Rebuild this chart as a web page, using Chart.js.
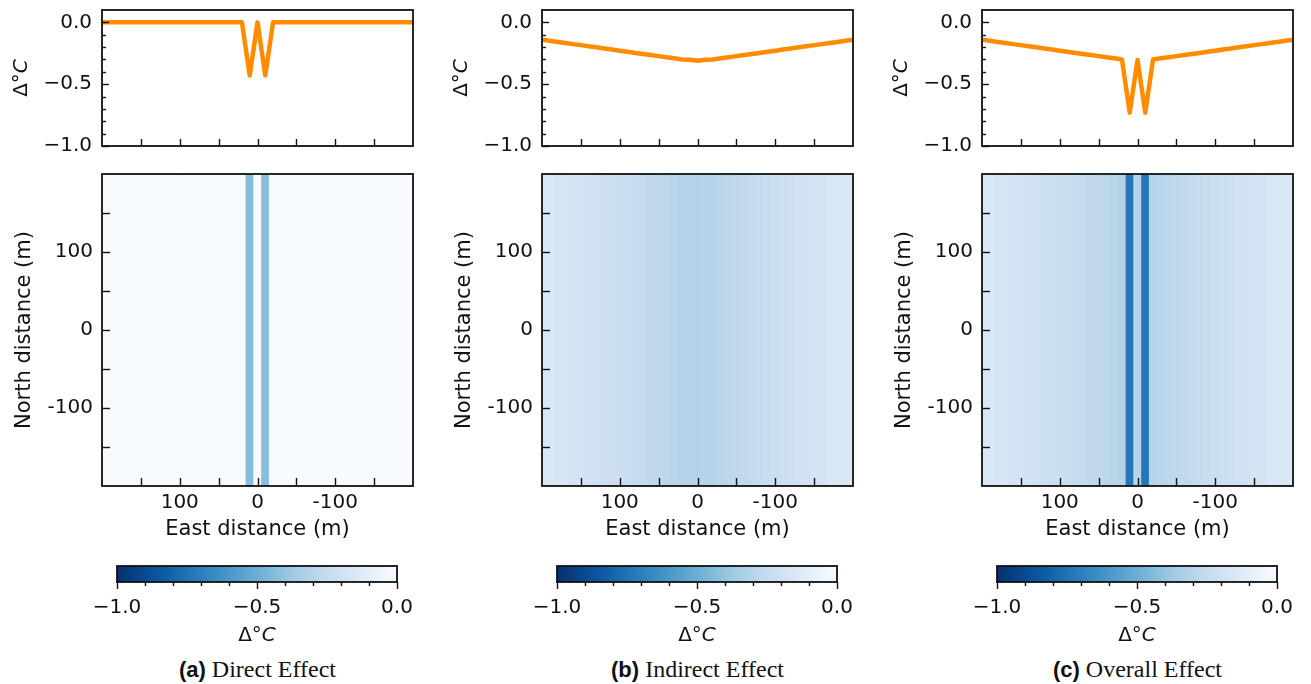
<!DOCTYPE html>
<html>
<head>
<meta charset="utf-8">
<script src="https://cdn.jsdelivr.net/npm/chart.js@4.4.1/dist/chart.umd.min.js"></script>
<style>
  body { margin: 0; background: #fff; }
  #fig { position: relative; width: 1311px; height: 684px; overflow: hidden; }
  .panel { position: absolute; top: 0; width: 440px; height: 684px; }
  .panel canvas { position: absolute; left: 0; }
  .caption {
    position: absolute; left: 0; width: 515px; top: 654px;
    text-align: center; color: #111; white-space: nowrap;
    font-family: "Liberation Serif", "DejaVu Serif", serif; font-size: 24px; line-height: 30px;
  }
  .caption b { font-family: "Liberation Sans", Arial, sans-serif; font-size: 22px; }
</style>
</head>
<body>
<div id="fig"></div>
<script>
"use strict";

// east distance (m) of each sample / heatmap column, left to right
const EAST_M = [
  200, 190, 180, 170, 160, 150, 140, 130, 120, 110, 100, 90, 80, 70, 60, 50, 40, 30, 20, 10,
  0, -10, -20, -30, -40, -50, -60, -70, -80, -90, -100, -110, -120, -130, -140, -150, -160,
  -170, -180, -190, -200
];

// temperature change (deg C) along east distance
const DIRECT_C = [
  0, 0, 0, 0, 0, 0, 0, 0, 0, 0, 0, 0, 0, 0, 0, 0, 0, 0, 0, -0.43,
  0, -0.43, 0, 0, 0, 0, 0, 0, 0, 0, 0, 0, 0, 0, 0, 0, 0, 0, 0, 0, 0
];
const INDIRECT_C = [
  -0.140, -0.149, -0.158, -0.167, -0.176, -0.184, -0.193, -0.202, -0.211, -0.220, -0.229,
  -0.238, -0.247, -0.256, -0.264, -0.273, -0.282, -0.291, -0.300, -0.302,
  -0.310, -0.302, -0.300, -0.291, -0.282, -0.273, -0.264, -0.256, -0.247, -0.238, -0.229,
  -0.220, -0.211, -0.202, -0.193, -0.184, -0.176, -0.167, -0.158, -0.149, -0.140
];
const OVERALL_C = [
  -0.140, -0.149, -0.158, -0.167, -0.176, -0.184, -0.193, -0.202, -0.211, -0.220, -0.229,
  -0.238, -0.247, -0.256, -0.264, -0.273, -0.282, -0.291, -0.300, -0.730,
  -0.305, -0.730, -0.300, -0.291, -0.282, -0.273, -0.264, -0.256, -0.247, -0.238, -0.229,
  -0.220, -0.211, -0.202, -0.193, -0.184, -0.176, -0.167, -0.158, -0.149, -0.140
];

const PANEL_TAGS = ["(a)", "(b)", "(c)"];
const PANEL_NAMES = ["Direct Effect", "Indirect Effect", "Overall Effect"];
const PANEL_VALUES = [DIRECT_C, INDIRECT_C, OVERALL_C];

// axis ranges and ticks
const DIST_RANGE = [-200, 200];
const DIST_LABELS = [100, 0, -100];
const DIST_TICKS = [150, 100, 50, 0, -50, -100, -150];
const TEMP_RANGE = [-1.0, 0.1];
const TEMP_LABELS = [0, -0.5, -1.0];
const TEMP_MINOR = [-0.1, -0.2, -0.3, -0.4, -0.6, -0.7, -0.8, -0.9];
const CB_RANGE = [-1.0, 0.0];
const CB_LABELS = [-1.0, -0.5, 0.0];
const CB_MINOR = [-0.9, -0.8, -0.7, -0.6, -0.4, -0.3, -0.2, -0.1];

const INK = "#111111";
const ORANGE = "#ff8c00";
const BLUES = ["#f7fbff", "#deebf7", "#c6dbef", "#9ecae1", "#6baed6",
  "#4292c6", "#2171b5", "#08519c", "#08306b"];
const SANS = "'DejaVu Sans', sans-serif";
const TICK_FONT = { family: SANS, size: 20, lineHeight: 1 };
const TITLE_FONT = { family: SANS, size: 21, lineHeight: 1 };

const hexRGB = (h) => [1, 3, 5].map((i) => parseInt(h.slice(i, i + 2), 16));

// Blues colormap, value -1 is darkest, 0 is lightest
const bluesFor = (value) => {
  const t = Math.min(1, Math.max(0, -value)) * (BLUES.length - 1);
  const i = Math.min(Math.floor(t), BLUES.length - 2);
  const a = hexRGB(BLUES[i]);
  const b = hexRGB(BLUES[i + 1]);
  const k = t - i;
  return "rgb(" + a.map((v, j) => Math.round(v + (b[j] - v) * k)).join(",") + ")";
};

const signed = (v) => (v < -1e-9 ? "\u2212" : "") + Math.abs(v).toFixed(1);
const tickList = (values) => (s) => {
  s.ticks = values.map((v) => ({ value: v }));
};
// invisible tick length is used as the label gap (padding would also pad the chart area)
const gap = (len) => ({ display: false, drawTicks: true, tickLength: len });

// frame around the plot area and matplotlib style tick marks
const axesDeco = {
  id: "axesDeco",
  afterDraw(chart, args, opts) {
    const { ctx, chartArea: a } = chart;
    ctx.save();
    ctx.strokeStyle = INK;
    ctx.lineWidth = 1.4;
    (opts.marks || []).forEach((m) => {
      const s = chart.scales[m.axis];
      m.values.forEach((v) => {
        const p = Math.round(s.getPixelForValue(v)) + 0.5;
        ctx.beginPath();
        if (m.axis === "x") {
          ctx.moveTo(p, a.bottom);
          ctx.lineTo(p, a.bottom + m.len);
        } else {
          ctx.moveTo(a.left, p);
          ctx.lineTo(a.left + m.len, p);
        }
        ctx.stroke();
      });
    });
    if (opts.frame) {
      ctx.lineWidth = 1.8;
      ctx.strokeRect(a.left, a.top, a.width, a.height);
    }
    ctx.restore();
  },
};

// "Δ°C" with an italic C, like matplotlib mathtext
const mathLabel = {
  id: "mathLabel",
  afterDraw(chart, args, opts) {
    if (opts.x === undefined) return;
    const ctx = chart.ctx;
    const up = "20px " + SANS;
    const it = "oblique 20px " + SANS;
    ctx.save();
    ctx.translate(opts.x, opts.y);
    if (opts.rotate) ctx.rotate(-Math.PI / 2);
    ctx.fillStyle = INK;
    ctx.textBaseline = "middle";
    ctx.textAlign = "left";
    ctx.font = up;
    const w1 = ctx.measureText("Δ°").width;
    ctx.font = it;
    const w2 = ctx.measureText("C").width;
    const x0 = -(w1 + w2) / 2;
    ctx.font = up;
    ctx.fillText("Δ°", x0, 0);
    ctx.font = it;
    ctx.fillText("C", x0 + w1, 0);
    ctx.restore();
  },
};

const baseOptions = () => ({
  responsive: false,
  animation: false,
  devicePixelRatio: 1,
  events: [],
});

const hidden = { legend: { display: false }, tooltip: { enabled: false } };

function makeCanvas(parent, top, h) {
  const c = document.createElement("canvas");
  c.width = 440;
  c.height = h;
  c.style.top = top + "px";
  parent.appendChild(c);
  return c;
}

function drawProfile(parent, values) {
  new Chart(makeCanvas(parent, 0, 160), {
    type: "line",
    data: {
      datasets: [{
        data: EAST_M.map((x, i) => ({ x: x, y: values[i] })),
        borderColor: ORANGE,
        borderWidth: 4.5,
        borderJoinStyle: "round",
        borderCapStyle: "butt",
        pointRadius: 0,
        tension: 0,
      }],
    },
    options: {
      ...baseOptions(),
      layout: { padding: { left: 0, right: 27, top: 10, bottom: 0 } },
      plugins: {
        ...hidden,
        axesDeco: {
          frame: true,
          marks: [
            { axis: "x", values: DIST_TICKS, len: -7 },
            { axis: "y", values: TEMP_LABELS, len: 7 },
            { axis: "y", values: TEMP_MINOR, len: 4 },
          ],
        },
        mathLabel: { x: 22, y: 78, rotate: true },
      },
      scales: {
        x: {
          type: "linear", min: DIST_RANGE[0], max: DIST_RANGE[1], reverse: true,
          grid: { display: false }, border: { display: false },
          ticks: { display: false },
          afterFit: (s) => { s.height = 14; },
        },
        y: {
          type: "linear", min: TEMP_RANGE[0], max: TEMP_RANGE[1],
          grid: gap(10), border: { display: false },
          afterBuildTicks: tickList(TEMP_LABELS),
          ticks: { callback: (v) => signed(v), padding: 0, color: INK, font: TICK_FONT },
          afterFit: (s) => { s.width = 102; },
        },
      },
    },
    plugins: [axesDeco, mathLabel],
  });
}

function drawField(parent, values) {
  new Chart(makeCanvas(parent, 160, 380), {
    type: "bar",
    data: {
      datasets: [{
        data: EAST_M.map((x) => ({ x: x, y: [DIST_RANGE[0], DIST_RANGE[1]] })),
        backgroundColor: values.map(bluesFor),
        borderWidth: 0,
        barPercentage: 1.06,
        categoryPercentage: 1,
        clip: 0,
      }],
    },
    options: {
      ...baseOptions(),
      layout: { padding: { left: 0, right: 27, top: 14, bottom: 0 } },
      plugins: {
        ...hidden,
        axesDeco: {
          frame: true,
          marks: [
            { axis: "x", values: DIST_TICKS, len: -8 },
            { axis: "y", values: DIST_TICKS, len: 8 },
          ],
        },
      },
      scales: {
        x: {
          type: "linear", min: DIST_RANGE[0], max: DIST_RANGE[1], reverse: true, offset: false,
          grid: { ...gap(7), offset: false }, border: { display: false },
          afterBuildTicks: tickList(DIST_LABELS),
          ticks: { callback: (v) => String(v), padding: 0, color: INK, font: TICK_FONT, maxRotation: 0 },
          title: { display: true, text: "East distance (m)", color: INK, font: TITLE_FONT, padding: 0 },
          afterFit: (s) => { s.height = 54; },
        },
        y: {
          type: "linear", min: DIST_RANGE[0], max: DIST_RANGE[1],
          grid: gap(9), border: { display: false },
          afterBuildTicks: tickList(DIST_LABELS),
          ticks: { callback: (v) => String(v), padding: 0, color: INK, font: TICK_FONT },
          title: { display: true, text: "North distance (m)", color: INK, font: TITLE_FONT,
            padding: { top: 14, bottom: 0 } },
          afterFit: (s) => { s.width = 102; },
        },
      },
    },
    plugins: [axesDeco],
  });
}

function drawColorbar(parent) {
  const gradient = (c) => {
    const chart = c.chart;
    if (!chart.chartArea) return BLUES[0];
    const s = chart.scales.x;
    const g = chart.ctx.createLinearGradient(
      s.getPixelForValue(CB_RANGE[0]), 0, s.getPixelForValue(CB_RANGE[1]), 0);
    BLUES.forEach((col, i) => g.addColorStop(1 - i / (BLUES.length - 1), col));
    return g;
  };
  new Chart(makeCanvas(parent, 550, 100), {
    type: "bar",
    data: {
      labels: ["cb"],
      datasets: [{
        data: [[CB_RANGE[0], CB_RANGE[1]]],
        backgroundColor: gradient,
        borderWidth: 0,
        barPercentage: 1,
        categoryPercentage: 1,
      }],
    },
    options: {
      ...baseOptions(),
      indexAxis: "y",
      layout: { padding: { left: 117, right: 43, top: 16, bottom: 0 } },
      plugins: {
        ...hidden,
        axesDeco: {
          frame: true,
          marks: [
            { axis: "x", values: CB_LABELS, len: 7 },
            { axis: "x", values: CB_MINOR, len: 4 },
          ],
        },
        mathLabel: { x: 257, y: 86, rotate: false },
      },
      scales: {
        y: { display: false },
        x: {
          type: "linear", min: CB_RANGE[0], max: CB_RANGE[1],
          grid: gap(16), border: { display: false },
          afterBuildTicks: tickList(CB_LABELS),
          ticks: { callback: (v) => signed(v), padding: 0, color: INK, font: TICK_FONT, maxRotation: 0 },
          afterFit: (s) => { s.height = 68; },
        },
      },
    },
    plugins: [axesDeco, mathLabel],
  });
}

const fig = document.getElementById("fig");
PANEL_VALUES.forEach((values, i) => {
  const panel = document.createElement("div");
  panel.className = "panel";
  panel.style.left = i * 440 + "px";
  fig.appendChild(panel);

  drawProfile(panel, values);
  drawField(panel, values);
  drawColorbar(panel);

  const cap = document.createElement("div");
  cap.className = "caption";
  cap.innerHTML = "<b>" + PANEL_TAGS[i] + "</b> " + PANEL_NAMES[i];
  panel.appendChild(cap);
});
</script>
</body>
</html>
